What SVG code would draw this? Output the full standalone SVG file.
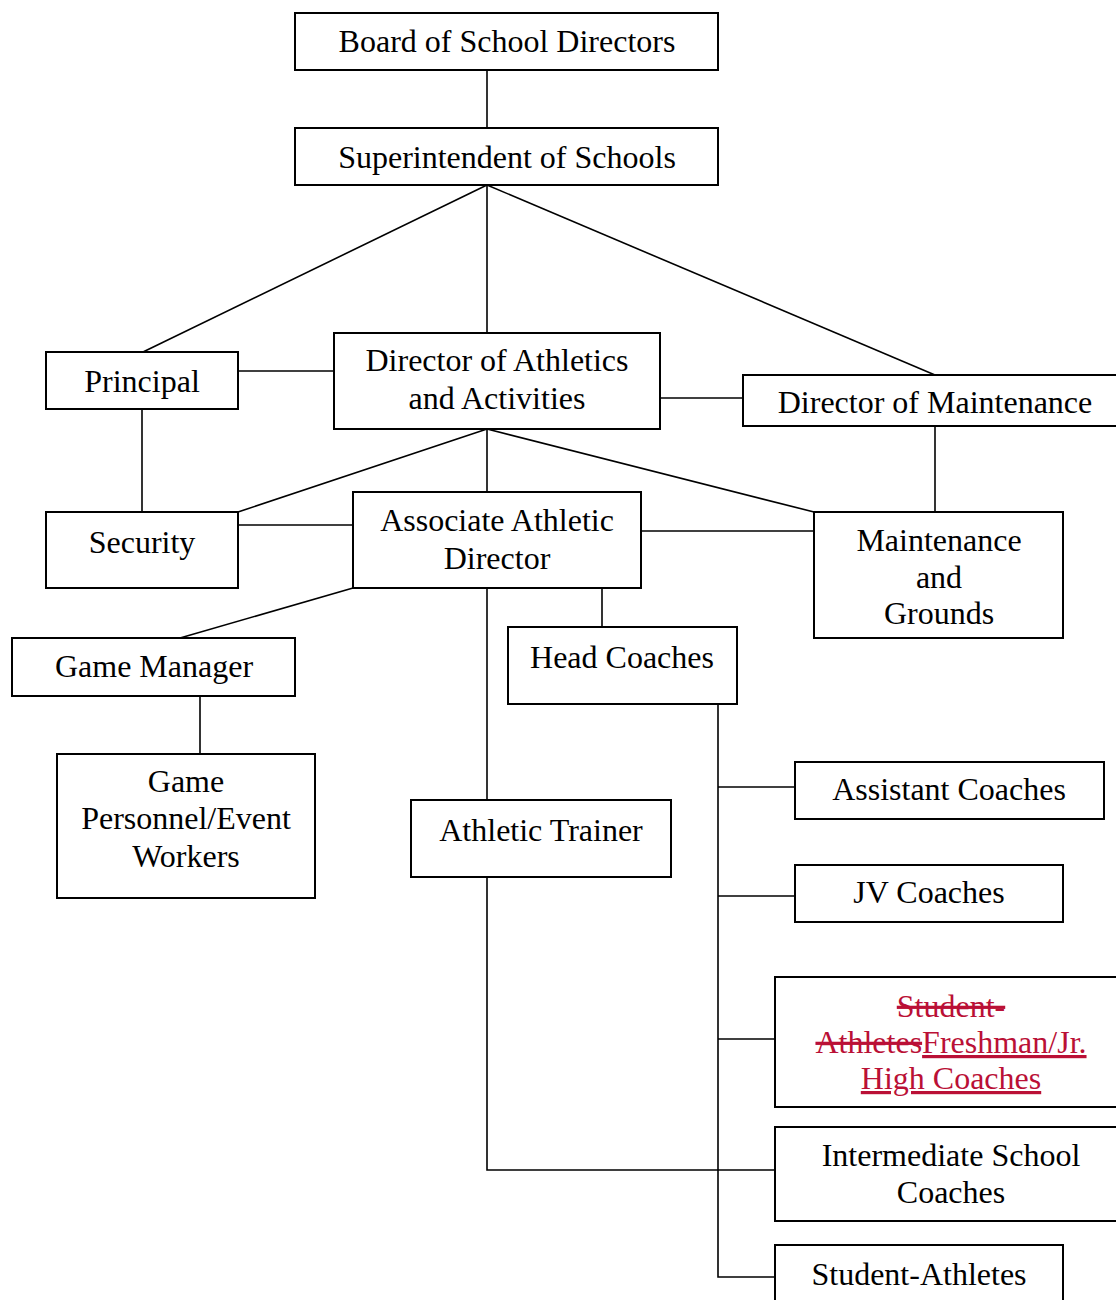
<svg xmlns="http://www.w3.org/2000/svg" width="1116" height="1300" viewBox="0 0 1116 1300">
<style>
.box{fill:#fff;stroke:#000;stroke-width:2}
.ln{stroke:#000;stroke-width:1.6;fill:none}
text{font-family:"Liberation Serif","Times New Roman",serif;font-size:32px;fill:#000;text-anchor:middle}
.red{fill:#BA1036}
</style>
<rect width="1116" height="1300" fill="#fff"/>
<g id="connectors">
<line class="ln" x1="487" y1="70" x2="487" y2="128"/>
<line class="ln" x1="487" y1="185" x2="143" y2="352"/>
<line class="ln" x1="487" y1="185" x2="487" y2="333"/>
<line class="ln" x1="487" y1="185" x2="935" y2="375"/>
<line class="ln" x1="238" y1="371" x2="334" y2="371"/>
<line class="ln" x1="660" y1="398" x2="743" y2="398"/>
<line class="ln" x1="142" y1="409" x2="142" y2="512"/>
<line class="ln" x1="487" y1="429" x2="238" y2="512"/>
<line class="ln" x1="487" y1="429" x2="487" y2="492"/>
<line class="ln" x1="487" y1="429" x2="814" y2="512"/>
<line class="ln" x1="935" y1="426" x2="935" y2="512"/>
<line class="ln" x1="238" y1="525" x2="353" y2="525"/>
<line class="ln" x1="641" y1="531" x2="814" y2="531"/>
<line class="ln" x1="353" y1="588" x2="180" y2="638"/>
<line class="ln" x1="200" y1="696" x2="200" y2="754"/>
<line class="ln" x1="487" y1="588" x2="487" y2="800"/>
<line class="ln" x1="602" y1="588" x2="602" y2="627"/>
<polyline class="ln" points="487,877 487,1170 775,1170"/>
<polyline class="ln" points="718,704 718,1277 775,1277"/>
<line class="ln" x1="718" y1="787" x2="795" y2="787"/>
<line class="ln" x1="718" y1="896" x2="795" y2="896"/>
<line class="ln" x1="718" y1="1039" x2="775" y2="1039"/>
</g>
<g id="board"><rect class="box" x="295" y="13" width="423" height="57"/><text x="507" y="52">Board of School Directors</text></g>
<g id="superintendent"><rect class="box" x="295" y="128" width="423" height="57"/><text x="507" y="168">Superintendent of Schools</text></g>
<g id="principal"><rect class="box" x="46" y="352" width="192" height="57"/><text x="142" y="392">Principal</text></g>
<g id="director-athletics"><rect class="box" x="334" y="333" width="326" height="96"/><text x="497" y="371">Director of Athletics</text><text x="497" y="409">and Activities</text></g>
<g id="director-maintenance"><rect class="box" x="743" y="375" width="390" height="51"/><text x="935" y="413">Director of Maintenance</text></g>
<g id="security"><rect class="box" x="46" y="512" width="192" height="76"/><text x="142" y="553">Security</text></g>
<g id="associate"><rect class="box" x="353" y="492" width="288" height="96"/><text x="497" y="531">Associate Athletic</text><text x="497" y="569">Director</text></g>
<g id="maintenance-grounds"><rect class="box" x="814" y="512" width="249" height="126"/><text x="939" y="551">Maintenance</text><text x="939" y="588">and</text><text x="939" y="624">Grounds</text></g>
<g id="game-manager"><rect class="box" x="12" y="638" width="283" height="58"/><text x="154" y="677">Game Manager</text></g>
<g id="game-personnel"><rect class="box" x="57" y="754" width="258" height="144"/><text x="186" y="792">Game</text><text x="186" y="829">Personnel/Event</text><text x="186" y="867">Workers</text></g>
<g id="head-coaches"><rect class="box" x="508" y="627" width="229" height="77"/><text x="622" y="668">Head Coaches</text></g>
<g id="athletic-trainer"><rect class="box" x="411" y="800" width="260" height="77"/><text x="541" y="841">Athletic Trainer</text></g>
<g id="assistant-coaches"><rect class="box" x="795" y="762" width="309" height="57"/><text x="949" y="800">Assistant Coaches</text></g>
<g id="jv-coaches"><rect class="box" x="795" y="865" width="268" height="57"/><text x="929" y="903">JV Coaches</text></g>
<g id="freshman-coaches"><rect class="box" x="775" y="977" width="360" height="130"/>
<text class="red" x="951" y="1017" text-decoration="line-through">Student-</text>
<text class="red" x="951" y="1053"><tspan text-decoration="line-through">Athletes</tspan><tspan text-decoration="underline">Freshman/Jr.</tspan></text>
<text class="red" x="951" y="1089" text-decoration="underline">High Coaches</text></g>
<g id="intermediate-coaches"><rect class="box" x="775" y="1127" width="360" height="94"/><text x="951" y="1166">Intermediate School</text><text x="951" y="1203">Coaches</text></g>
<g id="student-athletes"><rect class="box" x="775" y="1245" width="288" height="70"/><text x="919" y="1285">Student-Athletes</text></g>
</svg>
